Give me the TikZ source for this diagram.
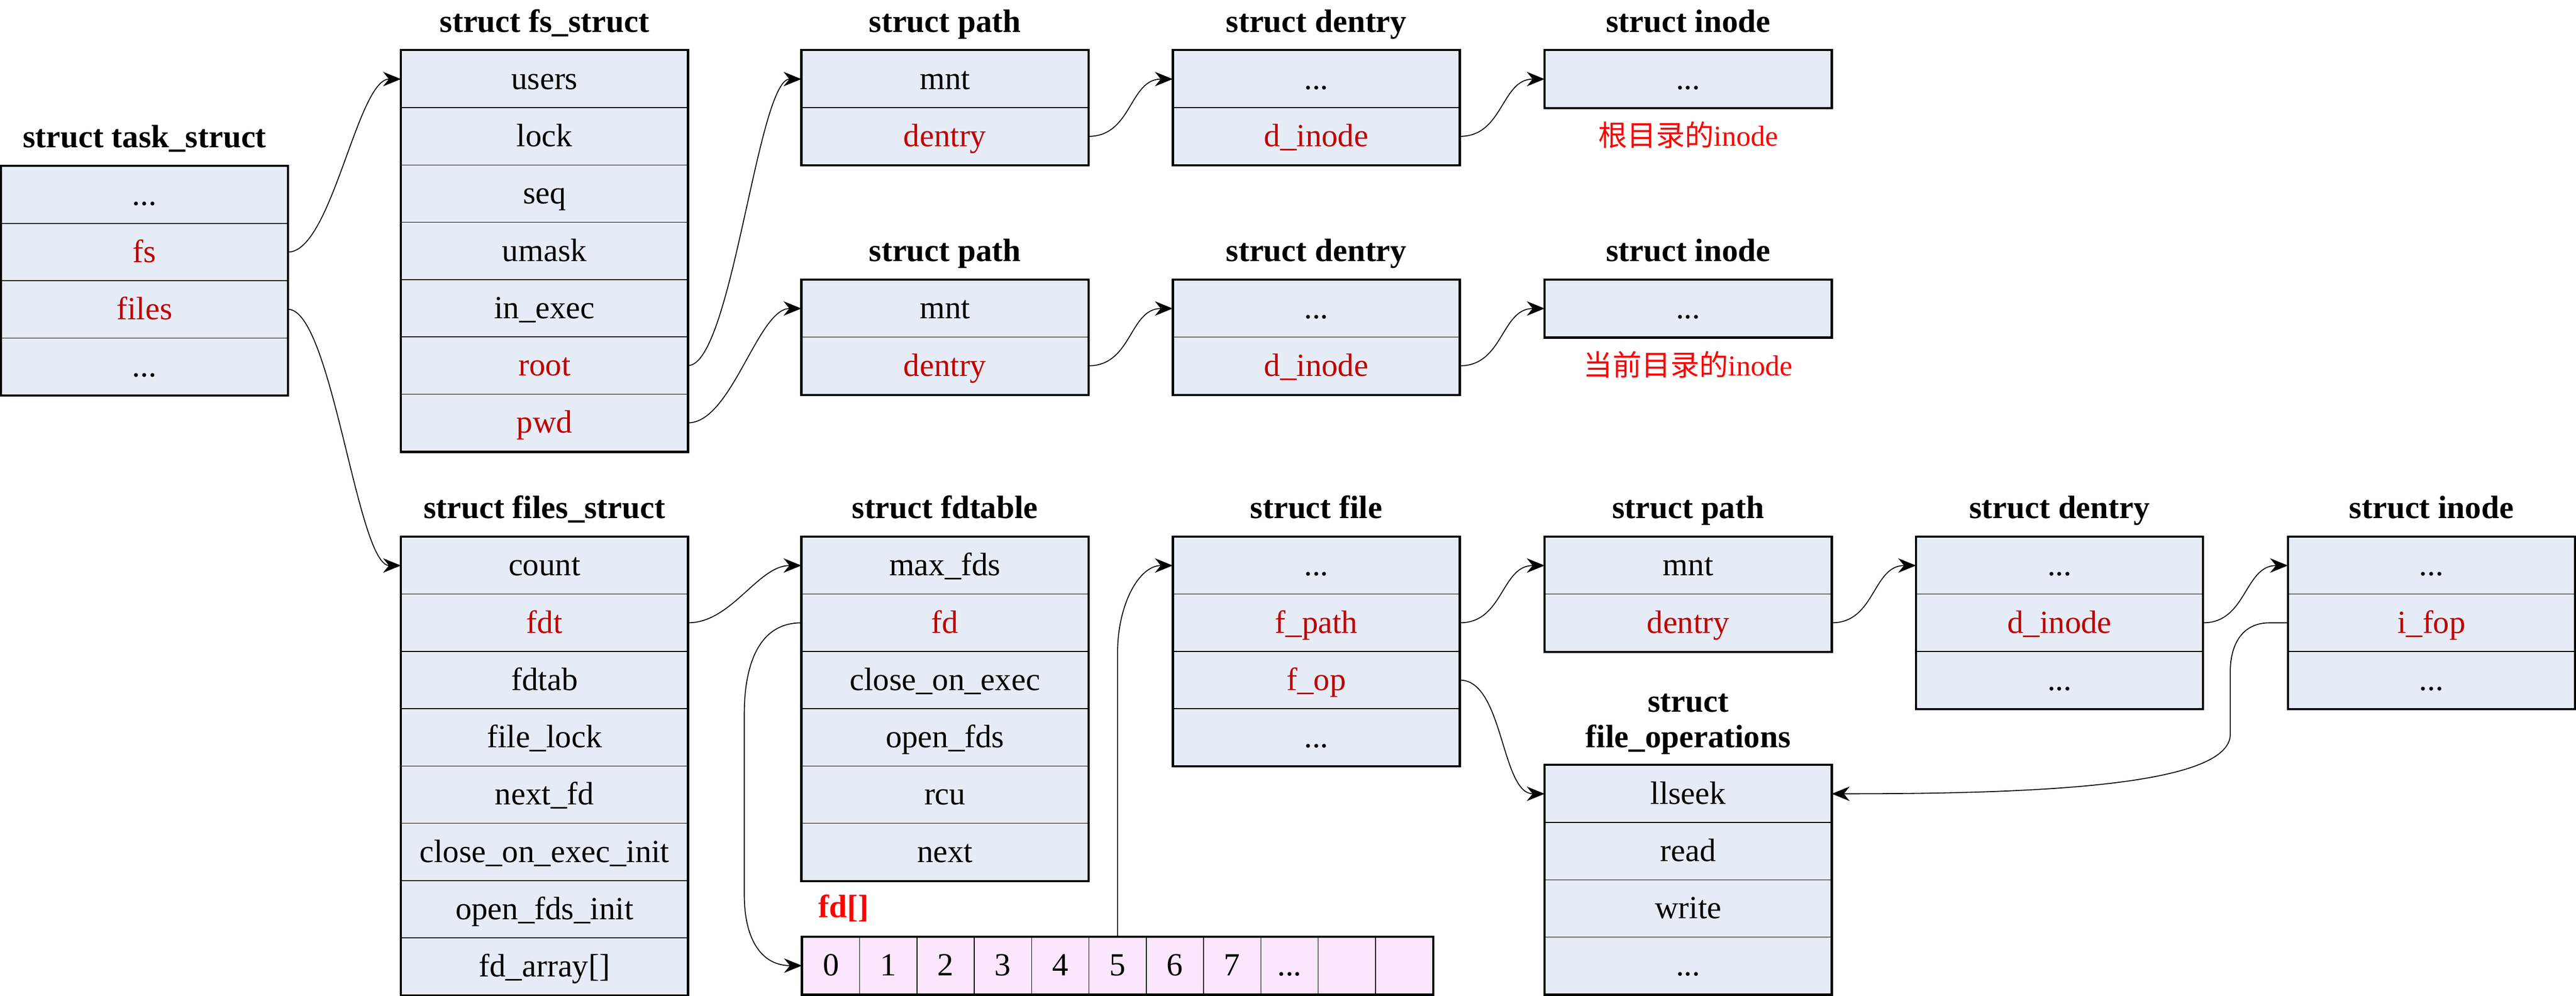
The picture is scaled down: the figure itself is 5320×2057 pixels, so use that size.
\documentclass[tikz,border=0pt]{standalone}
\usepackage{fontspec}
\setmainfont{Liberation Serif}
\newfontfamily\cjk{Noto Sans CJK SC}
\usetikzlibrary{arrows.meta}
\definecolor{fieldblue}{RGB}{230,236,246}
\definecolor{cellpink}{RGB}{252,230,252}
\definecolor{fieldred}{RGB}{192,0,0}
\definecolor{notered}{RGB}{255,0,0}
\tikzstyle{field} = [rectangle, minimum width=5.91cm, minimum height=1.183cm, inner sep=0pt, text height=15.5pt, text depth=3.5pt, text centered, draw=black, line width=0.45pt, fill=fieldblue, font=\fontsize{19}{23}\selectfont]
\tikzstyle{redfield} = [field, text=fieldred]
\tikzstyle{cell} = [field, minimum width=1.183cm, fill=cellpink]
\tikzstyle{heading} = [inner sep=0pt, align=center, font=\bfseries\fontsize{19}{21}\selectfont]
\tikzstyle{title} = [heading, text height=15.5pt, text depth=3.5pt]
\tikzstyle{note} = [inner sep=0pt, text height=14.5pt, text depth=3pt, text=notered, font=\fontsize{17}{20}\selectfont]
\tikzstyle{frame} = [draw=black, line width=1.3pt]
\tikzstyle{arrow} = [line width=0.55pt, ->, >={Stealth[length=10.5pt,width=8.5pt]}]
\tikzstyle{hop} = [out=0, in=180, distance=0.9cm]

\begin{document}
\begin{tikzpicture}[node distance=1.183cm, x=0.01cm, y=0.01cm]
\useasboundingbox (0,0) rectangle (5320,-2057);

% task_struct
\node (task_title) [title] at (298.5,-284) {struct task\_struct};
\node (task_a) [field, below of=task_title] {...};
\node (task_fs) [redfield, below of=task_a] {fs};
\node (task_files) [redfield, below of=task_fs] {files};
\node (task_b) [field, below of=task_files] {...};

% fs_struct
\node (fs_title) [title] at (1124.5,-45) {struct fs\_struct};
\node (fs_users) [field, below of=fs_title] {users};
\node (fs_lock) [field, below of=fs_users] {lock};
\node (fs_seq) [field, below of=fs_lock] {seq};
\node (fs_umask) [field, below of=fs_seq] {umask};
\node (fs_exec) [field, below of=fs_umask] {in\_exec};
\node (fs_root) [redfield, below of=fs_exec] {root};
\node (fs_pwd) [redfield, below of=fs_root] {pwd};

% root: path, dentry, inode
\node (rpath_title) [title] at (1951.5,-45) {struct path};
\node (rpath_mnt) [field, below of=rpath_title] {mnt};
\node (rpath_dentry) [redfield, below of=rpath_mnt] {dentry};
\node (rdentry_title) [title] at (2718.5,-45) {struct dentry};
\node (rdentry_a) [field, below of=rdentry_title] {...};
\node (rdentry_inode) [redfield, below of=rdentry_a] {d\_inode};
\node (rinode_title) [title] at (3486.5,-45) {struct inode};
\node (rinode_a) [field, below of=rinode_title] {...};
\node (rinode_note) [note, below of=rinode_a] {{\cjk 根目录的}inode};

% pwd: path, dentry, inode
\node (ppath_title) [title] at (1951.5,-519) {struct path};
\node (ppath_mnt) [field, below of=ppath_title] {mnt};
\node (ppath_dentry) [redfield, below of=ppath_mnt] {dentry};
\node (pdentry_title) [title] at (2718.5,-519) {struct dentry};
\node (pdentry_a) [field, below of=pdentry_title] {...};
\node (pdentry_inode) [redfield, below of=pdentry_a] {d\_inode};
\node (pinode_title) [title] at (3486.5,-519) {struct inode};
\node (pinode_a) [field, below of=pinode_title] {...};
\node (pinode_note) [note, below of=pinode_a] {{\cjk 当前目录的}inode};

% files_struct
\node (files_title) [title] at (1124.5,-1050) {struct files\_struct};
\node (files_count) [field, below of=files_title] {count};
\node (files_fdt) [redfield, below of=files_count] {fdt};
\node (files_fdtab) [field, below of=files_fdt] {fdtab};
\node (files_lock) [field, below of=files_fdtab] {file\_lock};
\node (files_next) [field, below of=files_lock] {next\_fd};
\node (files_close) [field, below of=files_next] {close\_on\_exec\_init};
\node (files_open) [field, below of=files_close] {open\_fds\_init};
\node (files_array) [field, below of=files_open] {fd\_array[]};

% fdtable
\node (fdt_title) [title] at (1951.5,-1050) {struct fdtable};
\node (fdt_max) [field, below of=fdt_title] {max\_fds};
\node (fdt_fd) [redfield, below of=fdt_max] {fd};
\node (fdt_close) [field, below of=fdt_fd] {close\_on\_exec};
\node (fdt_open) [field, below of=fdt_close] {open\_fds};
\node (fdt_rcu) [field, below of=fdt_open] {rcu};
\node (fdt_next) [field, below of=fdt_rcu] {next};

% fd[]
\node (fd_label) [title, text=notered] at (1742,-1874) {fd[]};
\node (fd0) [cell] at (1716.15,-1995) {0};
\node (fd1) [cell, right of=fd0] {1};
\node (fd2) [cell, right of=fd1] {2};
\node (fd3) [cell, right of=fd2] {3};
\node (fd4) [cell, right of=fd3] {4};
\node (fd5) [cell, right of=fd4] {5};
\node (fd6) [cell, right of=fd5] {6};
\node (fd7) [cell, right of=fd6] {7};
\node (fd8) [cell, right of=fd7] {...};
\node (fd9) [cell, right of=fd8] {};
\node (fd10) [cell, right of=fd9] {};

% file
\node (file_title) [title] at (2718.5,-1050) {struct file};
\node (file_a) [field, below of=file_title] {...};
\node (file_path) [redfield, below of=file_a] {f\_path};
\node (file_op) [redfield, below of=file_path] {f\_op};
\node (file_b) [field, below of=file_op] {...};

% file: path, dentry, inode
\node (fpath_title) [title] at (3486.5,-1050) {struct path};
\node (fpath_mnt) [field, below of=fpath_title] {mnt};
\node (fpath_dentry) [redfield, below of=fpath_mnt] {dentry};
\node (fdentry_title) [title] at (4253.5,-1050) {struct dentry};
\node (fdentry_a) [field, below of=fdentry_title] {...};
\node (fdentry_inode) [redfield, below of=fdentry_a] {d\_inode};
\node (fdentry_b) [field, below of=fdentry_inode] {...};
\node (finode_title) [title] at (5021.5,-1050) {struct inode};
\node (finode_a) [field, below of=finode_title] {...};
\node (finode_fop) [redfield, below of=finode_a] {i\_fop};
\node (finode_b) [field, below of=finode_fop] {...};

% file_operations
\node (fops_title) [heading] at (3486.5,-1496) {struct\\file\_operations};
\node (fops_llseek) [field] at (3486.5,-1640) {llseek};
\node (fops_read) [field, below of=fops_llseek] {read};
\node (fops_write) [field, below of=fops_read] {write};
\node (fops_b) [field, below of=fops_write] {...};

% outer borders
\draw [frame] (task_a.north west) rectangle (task_b.south east);
\draw [frame] (fs_users.north west) rectangle (fs_pwd.south east);
\draw [frame] (rpath_mnt.north west) rectangle (rpath_dentry.south east);
\draw [frame] (rdentry_a.north west) rectangle (rdentry_inode.south east);
\draw [frame] (rinode_a.north west) rectangle (rinode_a.south east);
\draw [frame] (ppath_mnt.north west) rectangle (ppath_dentry.south east);
\draw [frame] (pdentry_a.north west) rectangle (pdentry_inode.south east);
\draw [frame] (pinode_a.north west) rectangle (pinode_a.south east);
\draw [frame] (files_count.north west) rectangle (files_array.south east);
\draw [frame] (fdt_max.north west) rectangle (fdt_next.south east);
\draw [frame] (fd0.north west) rectangle (fd10.south east);
\draw [frame] (file_a.north west) rectangle (file_b.south east);
\draw [frame] (fpath_mnt.north west) rectangle (fpath_dentry.south east);
\draw [frame] (fdentry_a.north west) rectangle (fdentry_b.south east);
\draw [frame] (finode_a.north west) rectangle (finode_b.south east);
\draw [frame] (fops_llseek.north west) rectangle (fops_b.south east);

% pointers
\draw [arrow] (task_fs.east) to[hop] (fs_users.west);
\draw [arrow] (task_files.east) to[hop] (files_count.west);
\draw [arrow] (fs_root.east) to[hop] (rpath_mnt.west);
\draw [arrow] (fs_pwd.east) to[hop] (ppath_mnt.west);
\draw [arrow] (rpath_dentry.east) to[hop] (rdentry_a.west);
\draw [arrow] (rdentry_inode.east) to[hop] (rinode_a.west);
\draw [arrow] (ppath_dentry.east) to[hop] (pdentry_a.west);
\draw [arrow] (pdentry_inode.east) to[hop] (pinode_a.west);
\draw [arrow] (files_fdt.east) to[hop] (fdt_max.west);
\draw [arrow] (fdt_fd.west) .. controls +(-90,0) and +(0,100) .. ++(-118,-190) -- ++(0,-370) .. controls +(0,-100) and +(-80,0) .. (fd0.west);
\draw [arrow] (fd5.north) -- ++(0,586) .. controls +(0,100) and +(-70,0) .. (file_a.west);
\draw [arrow] (file_path.east) to[hop] (fpath_mnt.west);
\draw [arrow] (file_op.east) to[hop] (fops_llseek.west);
\draw [arrow] (fpath_dentry.east) to[hop] (fdentry_a.west);
\draw [arrow] (fdentry_inode.east) to[hop] (finode_a.west);
\draw [arrow] (finode_fop.west) -- ++(-38,0) .. controls +(-60,0) and +(0,50) .. ++(-81,-100) -- ++(0,-130) .. controls +(0,-110) and +(400,0) .. (fops_llseek.east);

\end{tikzpicture}
\end{document}
